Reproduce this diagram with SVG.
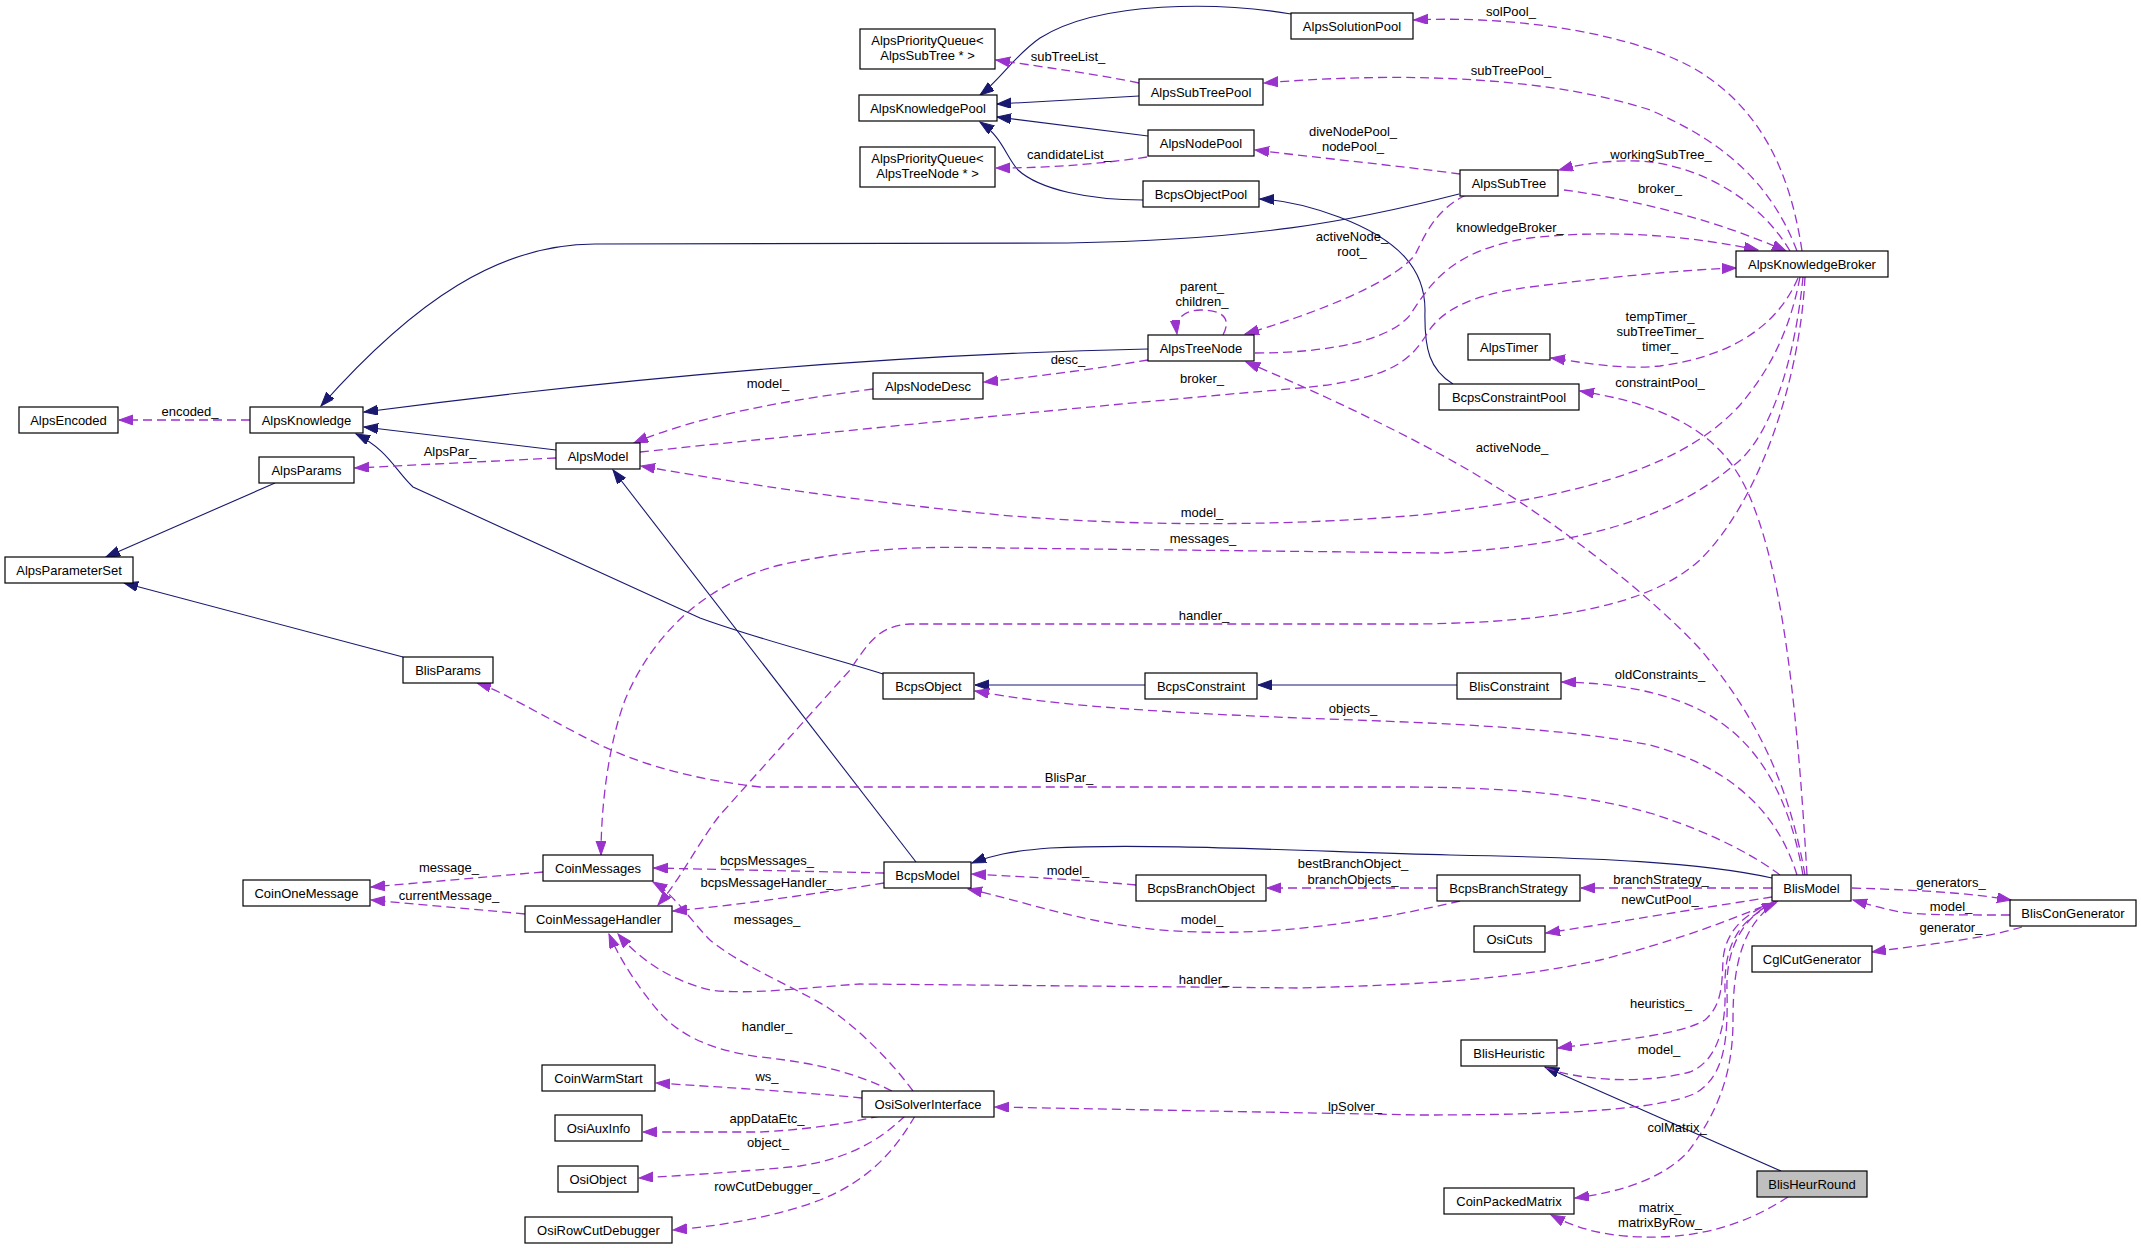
<svg xmlns="http://www.w3.org/2000/svg" width="2141" height="1248" viewBox="0 0 2141 1248">
<style>
.node rect{fill:#ffffff;stroke:#000000;stroke-width:1.2}
.node text,.lbl text{font-family:"Liberation Sans",Arial,sans-serif;font-size:13px;fill:#000000;text-anchor:middle}
.inh{fill:none;stroke:#191970;stroke-width:1.1;marker-end:url(#an)}
.use{fill:none;stroke:#9a32cd;stroke-width:1.3;stroke-dasharray:9,5;marker-end:url(#ap)}
</style>
<defs>
<marker id="an" markerWidth="15" markerHeight="11" refX="14" refY="5" orient="auto" markerUnits="userSpaceOnUse"><path d="M0,0 L14,5 L0,10 z" fill="#191970" stroke="#191970" stroke-width="1"/></marker>
<marker id="ap" markerWidth="15" markerHeight="11" refX="14" refY="5" orient="auto" markerUnits="userSpaceOnUse"><path d="M0,0 L14,5 L0,10 z" fill="#9a32cd" stroke="#9a32cd" stroke-width="1"/></marker>
</defs>
<rect x="0" y="0" width="2141" height="1248" fill="#ffffff"/>
<g id="edges">
<path class="inh" d="M1291,14 C1220,2 1100,0 1040,38 C1015,55 1000,80 980,95"/>
<path class="inh" d="M1139,96 L997,104"/>
<path class="inh" d="M1148,136 L997,117"/>
<path class="inh" d="M1143,200 C1090,200 1040,190 1018,170 C1005,155 1003,138 980,122"/>
<path class="inh" d="M1459,194 C1350,222 1250,240 1068,243 L595,244 C500,244 415,300 321,406"/>
<path class="inh" d="M1148,349 C950,353 700,368 364,412"/>
<path class="inh" d="M556,450 L364,427"/>
<path class="inh" d="M883,674 C830,657 760,640 700,618 L413,487 C395,470 388,450 356,434"/>
<path class="inh" d="M275,483 L106,557"/>
<path class="inh" d="M403,657 L124,583"/>
<path class="inh" d="M916,862 L613,470"/>
<path class="inh" d="M1145,685 L975,685"/>
<path class="inh" d="M1457,685 L1258,685"/>
<path class="inh" d="M1772,878 C1700,862 1600,858 1450,855 C1300,851 1150,843 1050,848 C1010,851 990,856 972,863"/>
<path class="inh" d="M1781,1171 L1545,1067"/>
<path class="inh" d="M1453,384 C1430,370 1424,350 1425,310 C1425,270 1400,240 1339,217 C1310,206 1285,200 1260,199"/>

<path class="use" d="M250,420 L119,420"/>
<path class="use" d="M556,458 L355,468"/>
<path class="use" d="M1802,251 C1790,170 1760,110 1700,72 C1640,35 1520,15 1414,20"/>
<path class="use" d="M1797,251 C1770,180 1720,140 1650,110 C1560,80 1420,70 1264,83"/>
<path class="use" d="M1790,251 C1760,200 1700,165 1640,161 C1610,160 1580,164 1559,170"/>
<path class="use" d="M1564,190 C1640,200 1720,222 1786,251"/>
<path class="use" d="M1255,353 C1330,353 1390,340 1410,315 C1430,285 1450,250 1530,238 C1620,228 1700,238 1758,250"/>
<path class="use" d="M640,452 C800,435 1100,405 1300,388 C1390,380 1410,360 1425,337 C1440,310 1470,295 1530,287 C1610,277 1680,270 1736,268"/>
<path class="use" d="M1466,195 C1435,210 1425,235 1415,255 C1390,285 1310,315 1245,334"/>
<path class="use" d="M1460,174 C1400,166 1320,158 1255,150"/>
<path class="use" d="M1147,157 C1100,164 1050,168 996,168"/>
<path class="use" d="M1139,83 C1090,73 1050,68 996,60"/>
<path class="use" d="M1798,278 C1780,320 1740,355 1660,366 C1620,370 1580,362 1551,358"/>
<path class="use" d="M1807,875 C1798,720 1785,590 1755,510 C1735,455 1700,410 1580,391"/>
<path class="use" d="M1800,277 C1790,330 1770,370 1740,405 C1690,460 1600,495 1420,515 C1300,525 1150,528 1000,515 C850,500 750,485 641,466"/>
<path class="use" d="M1803,277 C1795,360 1770,440 1733,466 C1680,510 1600,545 1440,553 L1000,548 C900,545 840,552 780,565 C700,585 650,640 625,700 C610,740 601,800 601,855"/>
<path class="use" d="M1805,277 C1800,380 1760,500 1700,560 C1650,605 1560,622 1420,624 L910,624 C880,626 870,640 850,670 L720,815 C700,840 680,880 658,905"/>
<path class="use" d="M1805,875 C1790,790 1760,720 1700,649 C1650,595 1560,525 1485,480 C1420,440 1320,393 1246,362"/>
<path class="use" d="M1803,875 C1790,800 1760,740 1700,710 C1660,690 1610,683 1562,682"/>
<path class="use" d="M1797,875 C1780,820 1740,770 1650,745 C1550,725 1400,722 1300,718 C1150,712 1050,705 975,691"/>
<path class="use" d="M1780,875 C1760,860 1720,835 1650,813 C1580,793 1500,787 1400,787 L760,787 C700,780 650,768 600,745 C540,715 500,690 477,683"/>
<path class="use" d="M1772,888 L1581,888"/>
<path class="use" d="M1772,897 C1720,905 1650,917 1546,933"/>
<path class="use" d="M1852,888 C1920,890 1970,893 2011,900"/>
<path class="use" d="M2010,915 C1960,915 1920,915 1900,912 C1880,908 1870,905 1853,900"/>
<path class="use" d="M2022,927 C1980,940 1920,945 1872,952"/>
<path class="use" d="M1437,888 L1267,888"/>
<path class="use" d="M1136,885 C1080,880 1030,877 972,874"/>
<path class="use" d="M1460,901 C1400,915 1300,935 1200,932 C1100,930 1040,905 968,889"/>
<path class="use" d="M884,873 L654,868"/>
<path class="use" d="M884,883 C820,893 740,905 673,911"/>
<path class="use" d="M1776,901 C1730,920 1680,940 1600,960 C1500,982 1400,985 1300,988 L860,984 C800,988 750,995 710,990 C670,980 640,960 618,934"/>
<path class="use" d="M892,1091 C860,1075 820,1063 760,1057 C710,1050 680,1035 660,1013 C640,990 620,960 609,934"/>
<path class="use" d="M913,1091 C890,1060 860,1030 827,1007 C790,985 740,965 710,940 C690,920 675,895 653,882"/>
<path class="use" d="M1774,902 C1740,915 1725,935 1723,960 C1722,985 1722,1005 1705,1020 C1680,1035 1620,1040 1558,1048"/>
<path class="use" d="M1546,1068 C1580,1080 1640,1085 1690,1072 C1720,1060 1726,1020 1725,990 C1724,950 1735,920 1776,903"/>
<path class="use" d="M1776,901 C1735,920 1726,960 1727,990 C1728,1040 1725,1075 1696,1093 C1660,1110 1560,1115 1420,1115 L995,1107"/>
<path class="use" d="M1778,901 C1740,925 1733,970 1733,1020 C1733,1070 1720,1110 1687,1153 C1660,1180 1620,1192 1575,1198"/>
<path class="use" d="M1788,1197 C1760,1215 1720,1235 1660,1237 C1610,1238 1580,1230 1551,1215"/>
<path class="use" d="M862,1098 C800,1092 720,1087 656,1083"/>
<path class="use" d="M880,1116 C840,1125 800,1130 760,1132 L643,1132"/>
<path class="use" d="M905,1116 C880,1140 850,1158 800,1166 C740,1172 690,1175 639,1178"/>
<path class="use" d="M915,1116 C895,1150 870,1180 820,1200 C780,1215 730,1225 673,1230"/>
<path class="use" d="M543,872 L371,887"/>
<path class="use" d="M525,914 L371,900"/>
<path class="use" d="M1148,360 C1100,368 1050,375 984,382"/>
<path class="use" d="M873,389 C790,400 700,415 634,443"/>
<path class="use" d="M1223,335 C1232,318 1222,310 1201,310 C1184,310 1175,318 1177,334"/>
</g>
<g id="edge-labels" class="lbl">
<text x="190" y="416">encoded_</text>
<text x="450" y="456">AlpsPar_</text>
<text x="1511" y="16">solPool_</text>
<text x="1511" y="75">subTreePool_</text>
<text x="1068" y="61">subTreeList_</text>
<text x="1353" y="136">diveNodePool_</text>
<text x="1353" y="151">nodePool_</text>
<text x="1069" y="159">candidateList_</text>
<text x="1661" y="159">workingSubTree_</text>
<text x="1660" y="193">broker_</text>
<text x="1510" y="232">knowledgeBroker_</text>
<text x="1352" y="241">activeNode_</text>
<text x="1352" y="256">root_</text>
<text x="1202" y="291">parent_</text>
<text x="1202" y="306">children_</text>
<text x="1660" y="321">tempTimer_</text>
<text x="1660" y="336">subTreeTimer_</text>
<text x="1660" y="351">timer_</text>
<text x="1068" y="364">desc_</text>
<text x="1202" y="383">broker_</text>
<text x="768" y="388">model_</text>
<text x="1660" y="387">constraintPool_</text>
<text x="1512" y="452">activeNode_</text>
<text x="1202" y="517">model_</text>
<text x="1203" y="543">messages_</text>
<text x="1204" y="620">handler_</text>
<text x="1660" y="679">oldConstraints_</text>
<text x="1353" y="713">objects_</text>
<text x="1069" y="782">BlisPar_</text>
<text x="767" y="865">bcpsMessages_</text>
<text x="767" y="887">bcpsMessageHandler_</text>
<text x="449" y="872">message_</text>
<text x="449" y="900">currentMessage_</text>
<text x="1068" y="875">model_</text>
<text x="1353" y="868">bestBranchObject_</text>
<text x="1353" y="884">branchObjects_</text>
<text x="1661" y="884">branchStrategy_</text>
<text x="1660" y="904">newCutPool_</text>
<text x="1951" y="887">generators_</text>
<text x="1951" y="911">model_</text>
<text x="1951" y="932">generator_</text>
<text x="1202" y="924">model_</text>
<text x="767" y="924">messages_</text>
<text x="1204" y="984">handler_</text>
<text x="1661" y="1008">heuristics_</text>
<text x="767" y="1031">handler_</text>
<text x="1659" y="1054">model_</text>
<text x="767" y="1081">ws_</text>
<text x="1355" y="1111">lpSolver_</text>
<text x="767" y="1123">appDataEtc_</text>
<text x="1677" y="1132">colMatrix_</text>
<text x="768" y="1147">object_</text>
<text x="767" y="1191">rowCutDebugger_</text>
<text x="1660" y="1212">matrix_</text>
<text x="1660" y="1227">matrixByRow_</text>
</g>
<g id="AlpsSolutionPool" class="node"><rect x="1291" y="13" width="122" height="26"/><text x="1352" y="30.5">AlpsSolutionPool</text></g>
<g id="AlpsPriorityQueueSubTree" class="node"><rect x="860" y="29" width="135" height="40"/><text x="927.5" y="45">AlpsPriorityQueue&lt;</text><text x="927.5" y="60">AlpsSubTree * &gt;</text></g>
<g id="AlpsSubTreePool" class="node"><rect x="1139" y="79" width="124" height="26"/><text x="1201" y="96.5">AlpsSubTreePool</text></g>
<g id="AlpsKnowledgePool" class="node"><rect x="859" y="95" width="138" height="26"/><text x="928" y="112.5">AlpsKnowledgePool</text></g>
<g id="AlpsNodePool" class="node"><rect x="1148" y="130" width="106" height="26"/><text x="1201" y="147.5">AlpsNodePool</text></g>
<g id="AlpsPriorityQueueTreeNode" class="node"><rect x="860" y="147" width="135" height="40"/><text x="927.5" y="163">AlpsPriorityQueue&lt;</text><text x="927.5" y="178">AlpsTreeNode * &gt;</text></g>
<g id="BcpsObjectPool" class="node"><rect x="1143" y="181" width="116" height="26"/><text x="1201" y="198.5">BcpsObjectPool</text></g>
<g id="AlpsSubTree" class="node"><rect x="1460" y="170" width="98" height="26"/><text x="1509" y="187.5">AlpsSubTree</text></g>
<g id="AlpsKnowledgeBroker" class="node"><rect x="1736" y="251" width="152" height="26"/><text x="1812" y="268.5">AlpsKnowledgeBroker</text></g>
<g id="AlpsTimer" class="node"><rect x="1468" y="334" width="82" height="26"/><text x="1509" y="351.5">AlpsTimer</text></g>
<g id="BcpsConstraintPool" class="node"><rect x="1439" y="384" width="140" height="26"/><text x="1509" y="401.5">BcpsConstraintPool</text></g>
<g id="AlpsTreeNode" class="node"><rect x="1148" y="335" width="106" height="26"/><text x="1201" y="352.5">AlpsTreeNode</text></g>
<g id="AlpsNodeDesc" class="node"><rect x="873" y="373" width="110" height="26"/><text x="928" y="390.5">AlpsNodeDesc</text></g>
<g id="AlpsEncoded" class="node"><rect x="19" y="407" width="99" height="26"/><text x="68.5" y="424.5">AlpsEncoded</text></g>
<g id="AlpsKnowledge" class="node"><rect x="250" y="407" width="113" height="26"/><text x="306.5" y="424.5">AlpsKnowledge</text></g>
<g id="AlpsParams" class="node"><rect x="259" y="457" width="95" height="26"/><text x="306.5" y="474.5">AlpsParams</text></g>
<g id="AlpsModel" class="node"><rect x="556" y="443" width="84" height="26"/><text x="598" y="460.5">AlpsModel</text></g>
<g id="AlpsParameterSet" class="node"><rect x="5" y="557" width="128" height="26"/><text x="69" y="574.5">AlpsParameterSet</text></g>
<g id="BlisParams" class="node"><rect x="403" y="657" width="90" height="26"/><text x="448" y="674.5">BlisParams</text></g>
<g id="BcpsObject" class="node"><rect x="883" y="673" width="91" height="26"/><text x="928.5" y="690.5">BcpsObject</text></g>
<g id="BcpsConstraint" class="node"><rect x="1145" y="673" width="112" height="26"/><text x="1201" y="690.5">BcpsConstraint</text></g>
<g id="BlisConstraint" class="node"><rect x="1457" y="673" width="104" height="26"/><text x="1509" y="690.5">BlisConstraint</text></g>
<g id="CoinMessages" class="node"><rect x="543" y="855" width="110" height="26"/><text x="598" y="872.5">CoinMessages</text></g>
<g id="CoinOneMessage" class="node"><rect x="243" y="880" width="127" height="26"/><text x="306.5" y="897.5">CoinOneMessage</text></g>
<g id="CoinMessageHandler" class="node"><rect x="525" y="906" width="147" height="26"/><text x="598.5" y="923.5">CoinMessageHandler</text></g>
<g id="CoinWarmStart" class="node"><rect x="542" y="1065" width="113" height="26"/><text x="598.5" y="1082.5">CoinWarmStart</text></g>
<g id="OsiAuxInfo" class="node"><rect x="555" y="1115" width="87" height="26"/><text x="598.5" y="1132.5">OsiAuxInfo</text></g>
<g id="OsiObject" class="node"><rect x="558" y="1166" width="80" height="26"/><text x="598" y="1183.5">OsiObject</text></g>
<g id="OsiRowCutDebugger" class="node"><rect x="525" y="1217" width="147" height="26"/><text x="598.5" y="1234.5">OsiRowCutDebugger</text></g>
<g id="BcpsModel" class="node"><rect x="884" y="862" width="87" height="26"/><text x="927.5" y="879.5">BcpsModel</text></g>
<g id="BcpsBranchObject" class="node"><rect x="1136" y="875" width="130" height="26"/><text x="1201" y="892.5">BcpsBranchObject</text></g>
<g id="OsiSolverInterface" class="node"><rect x="862" y="1091" width="132" height="26"/><text x="928" y="1108.5">OsiSolverInterface</text></g>
<g id="BcpsBranchStrategy" class="node"><rect x="1437" y="875" width="143" height="26"/><text x="1508.5" y="892.5">BcpsBranchStrategy</text></g>
<g id="BlisModel" class="node"><rect x="1772" y="875" width="79" height="26"/><text x="1811.5" y="892.5">BlisModel</text></g>
<g id="BlisConGenerator" class="node"><rect x="2010" y="900" width="126" height="26"/><text x="2073" y="917.5">BlisConGenerator</text></g>
<g id="OsiCuts" class="node"><rect x="1474" y="926" width="71" height="26"/><text x="1509.5" y="943.5">OsiCuts</text></g>
<g id="CglCutGenerator" class="node"><rect x="1752" y="946" width="120" height="26"/><text x="1812" y="963.5">CglCutGenerator</text></g>
<g id="BlisHeuristic" class="node"><rect x="1461" y="1040" width="96" height="26"/><text x="1509" y="1057.5">BlisHeuristic</text></g>
<g id="BlisHeurRound" class="node"><rect x="1757" y="1171" width="110" height="26" style="fill:#bfbfbf"/><text x="1812" y="1188.5">BlisHeurRound</text></g>
<g id="CoinPackedMatrix" class="node"><rect x="1444" y="1188" width="130" height="26"/><text x="1509" y="1205.5">CoinPackedMatrix</text></g>
</svg>
